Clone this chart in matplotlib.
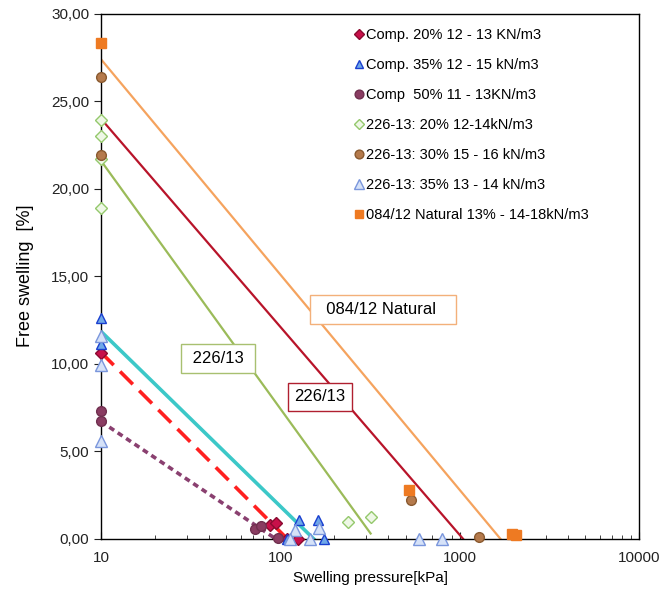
import matplotlib
matplotlib.use("Agg")
import matplotlib.pyplot as plt
import matplotlib.ticker as ticker
import numpy as np

plt.rcParams['font.family'] = ['Liberation Sans', 'DejaVu Sans']

# measured points (swelling pressure kPa, free swelling %)
comp20_x = [10, 88, 95, 109, 126]
comp20_y = [10.6, 0.8, 0.9, 0.0, 0.0]
comp35_x = [10, 10, 127, 161, 109, 175]
comp35_y = [12.6, 11.1, 1.1, 1.05, 0.0, 0.0]
comp50_x = [10, 10, 72, 78, 97]
comp50_y = [7.3, 6.7, 0.55, 0.75, 0.05]
s226_20_x = [10, 10, 10, 10, 239, 318]
s226_20_y = [23.9, 23.0, 21.7, 18.9, 0.93, 1.27]
s226_30_x = [10, 10, 536, 1279]
s226_30_y = [26.4, 21.9, 2.2, 0.1]
s226_35_x = [10, 10, 10, 121, 147, 163, 113, 594, 791]
s226_35_y = [11.6, 9.9, 5.6, 0.5, 0.0, 0.6, 0.0, 0.0, 0.0]
nat_x = [10, 517, 1960, 2060]
nat_y = [28.35, 2.8, 0.3, 0.2]

# trend lines (endpoints)
trend_nat_x, trend_nat_y = [10, 1680], [27.4, 0.0]
trend_226r_x, trend_226r_y = [10, 1040], [24.0, 0.0]
trend_226g_x, trend_226g_y = [10, 318], [21.6, 0.3]
trend_cyan_x, trend_cyan_y = [10, 153], [11.85, 0.0]
trend_red_x, trend_red_y = [10, 109], [10.65, 0.0]
trend_purp_x, trend_purp_y = [10, 94], [6.7, 0.0]

fig = plt.figure(figsize=(6.64, 5.94), dpi=100)
ax = fig.add_axes([0.152, 0.093, 0.811, 0.884])

# lines
ax.plot(trend_nat_x, trend_nat_y, color='#f5a35e', lw=1.6)
ax.plot(trend_226r_x, trend_226r_y, color='#b8142a', lw=1.6)
ax.plot(trend_226g_x, trend_226g_y, color='#9bbb59', lw=1.6)
ax.plot(trend_cyan_x, trend_cyan_y, color='#3cc8c8', lw=2.6)
ax.plot(trend_red_x, trend_red_y, color='#ff2020', lw=2.6, dashes=(5, 2.5))
ax.plot(trend_purp_x, trend_purp_y, color='#8a4070', lw=2.6, dashes=(1.6, 1.2))

ms = 7
ax.plot(comp20_x, comp20_y, 'D', ms=6, color='#c8104a', mec='#8a0a30', lw=0,
        label='Comp. 20% 12 - 13 KN/m3', clip_on=False, zorder=4)
ax.plot(comp35_x, comp35_y, '^', ms=ms, color='#6fa8e8', mec='#1a3fd0', lw=0,
        label='Comp. 35% 12 - 15 kN/m3', clip_on=False, zorder=4)
ax.plot(comp50_x, comp50_y, 'o', ms=ms, color='#8a3c62', mec='#70304f', lw=0,
        label='Comp  50% 11 - 13KN/m3', clip_on=False, zorder=4)
ax.plot(s226_20_x, s226_20_y, 'D', ms=6, color='#eef7e6', mec='#94c86c', lw=0,
        label='226-13: 20% 12-14kN/m3', clip_on=False, zorder=4)
ax.plot(s226_30_x, s226_30_y, 'o', ms=ms, color='#b57a4c', mec='#8a5a30', lw=0,
        label='226-13: 30% 15 - 16 kN/m3', clip_on=False, zorder=4)
ax.plot(s226_35_x, s226_35_y, '^', ms=8, color='#d6e2f8', mec='#7a96dc', lw=0,
        label='226-13: 35% 13 - 14 kN/m3', clip_on=False, zorder=4)
ax.plot(nat_x, nat_y, 's', ms=ms, color='#ee7a22', mec='#ee7a22', lw=0,
        label='084/12 Natural 13% - 14-18kN/m3', clip_on=False, zorder=4)

ax.set_xscale('log')
ax.set_xlim(10, 10000)
ax.set_ylim(0, 30)
ax.set_yticks(np.arange(0, 31, 5))
ax.yaxis.set_major_formatter(ticker.FuncFormatter(lambda v, p: f"{v:.2f}".replace('.', ',')))
ax.xaxis.set_major_formatter(ticker.FuncFormatter(lambda v, p: f"{int(v)}"))
ax.tick_params(axis='y', direction='out', length=5, labelsize=11, colors='#222222')
ax.tick_params(axis='x', which='both', direction='in', labelsize=11, colors='#222222')
ax.tick_params(axis='x', which='major', length=5, pad=9)
ax.tick_params(axis='x', which='minor', length=3)
ax.tick_params(axis='x', which='minor', labelbottom=False)
for s in ax.spines.values():
    s.set_color('black')
    s.set_linewidth(1.0)

ax.set_xlabel('Swelling pressure[kPa]', fontsize=11, labelpad=4)
ax.set_ylabel('Free swelling  [%]', fontsize=13, labelpad=12)

box = dict(boxstyle='square,pad=0.4', fc='white', lw=1)
ax.text(374, 13.1, '  084/12 Natural   ', fontsize=12, ha='center', va='center',
        bbox=dict(box, ec='#f3b07a'))
ax.text(45, 10.3, ' 226/13 ', fontsize=12, ha='center', va='center',
        bbox=dict(box, ec='#a8c070'))
ax.text(166, 8.1, '226/13', fontsize=12, ha='center', va='center',
        bbox=dict(box, ec='#b02030'))

ax.legend(loc='upper left', bbox_to_anchor=(0.455, 0.99), frameon=False, fontsize=10.5,
          labelspacing=1.1, handlelength=0.6, handletextpad=0.2, markerscale=0.9,
          borderaxespad=0.2)

fig.savefig('out.png', dpi=100)
